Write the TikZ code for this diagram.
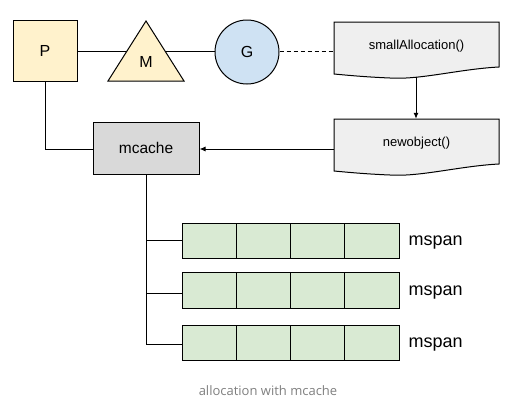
\documentclass[tikz,border=0pt]{standalone}
\usepackage{fontspec}
\setmainfont{Liberation Sans}
\newfontfamily\capfont{Open Sans}
\usetikzlibrary{arrows.meta}
\definecolor{pyellow}{HTML}{FFF2CC}
\definecolor{gblue}{HTML}{CFE2F3}
\definecolor{mcgray}{HTML}{D9D9D9}
\definecolor{docgray}{HTML}{EFEFEF}
\definecolor{spangreen}{HTML}{D9EAD3}
\definecolor{capgray}{HTML}{7F7F7F}
\tikzset{
  ln/.style={draw=black, line width=1pt},
  pbox/.style={ln, fill=pyellow, minimum width=64pt, minimum height=61pt, inner sep=0pt, font=\fontsize{16}{18}\selectfont},
  gcirc/.style={ln, circle, fill=gblue, minimum size=64pt, inner sep=0pt, font=\fontsize{16}{18}\selectfont},
  mcbox/.style={ln, fill=mcgray, minimum width=106pt, minimum height=52pt, inner sep=0pt, font=\fontsize{15.5}{18}\selectfont},
  doctext/.style={minimum width=165pt, minimum height=48pt, inner sep=0pt, font=\fontsize{13}{15}\selectfont},
  docshape/.style={ln, fill=docgray},
  cell/.style={ln, fill=spangreen, minimum width=54.25pt, inner sep=0pt},
  spanlabel/.style={anchor=west, inner sep=0pt, font=\fontsize{18}{20}\selectfont},
  arr/.style={ln, -{Latex[length=6pt,width=5pt]}},
}
\begin{document}
\begin{tikzpicture}[x=1pt,y=-1pt]
\useasboundingbox (0,0) rectangle (519,410);

% P box
\node[pbox] (P) at (45,50.5) {P};
% G circle
\node[gcirc] (G) at (247,52) {G};
% line P - G (behind triangle)
\draw[ln] (P.east |- 0,51) -- (G.west |- 0,51);
% M triangle
\draw[ln, fill=pyellow, line join=miter] (108,81) -- (146,21) -- (184,81) -- cycle;
\node[inner sep=0pt, font=\fontsize{16}{18}\selectfont] (M) at (146,62) {M};

% documents
\draw[docshape] (334,22) -- (499,22) -- (499,67)
  .. controls (460,69) and (420,80) .. (390,78)
  .. controls (365,77) and (345,75) .. (334,74) -- cycle;
\node[doctext] (sa) at (416.5,46) {smallAllocation()};
\draw[docshape] (334,119) -- (499,119) -- (499,164)
  .. controls (460,166) and (420,177) .. (390,175)
  .. controls (365,174) and (345,172) .. (334,171) -- cycle;
\node[doctext] (no) at (416.5,143) {newobject()};
\coordinate (saBot) at (416,77);

% dashed G - smallAllocation
\draw[ln, dashed, dash pattern=on 4pt off 3pt] (G.east |- 0,51) -- (sa.west |- 0,51);
% arrow smallAllocation -> newobject
\draw[arr] (saBot) -- (no.north -| saBot);

% mcache
\node[mcbox] (mc) at (146,148) {mcache};
\draw[arr] (no.west |- 0,149) -- (mc.east |- 0,149);
% P -> mcache
\draw[ln] (P.south) |- (mc.west |- 0,149);

% mspan rows
\foreach \r/\yc/\h in {1/240.5/35, 2/290/36, 3/342.5/35} {
  \foreach \c in {1,...,4} {
    \node[cell, minimum height=\h pt] (r\r c\c) at ({182+54.25*(\c-0.5)},\yc) {};
  }
}
\node[spanlabel] (l1) at ([xshift=9pt,yshift=-2.5pt]r1c4.east) {mspan};
\node[spanlabel] (l2) at ([xshift=9pt,yshift=-3pt]r2c4.east) {mspan};
\node[spanlabel] (l3) at ([xshift=9pt,yshift=-2.5pt]r3c4.east) {mspan};

% tree from mcache
\coordinate (v3) at (146,344);
\draw[ln] (mc.south) -- (v3);
\draw[ln] (v3 |- 0,240) -- (r1c1.west |- 0,240);
\draw[ln] (v3 |- 0,293) -- (r2c1.west |- 0,293);
\draw[ln] (v3) -- (r3c1.west |- v3);
\draw[line width=0.8pt, dash pattern=on 2pt off 3pt] ([yshift=5pt]v3) -- ([yshift=14pt]v3);

% caption
\node[font=\capfont\fontsize{13}{15}\selectfont, text=capgray, inner sep=0pt] (cap) at (268,391) {allocation with mcache};
\end{tikzpicture}
\end{document}
